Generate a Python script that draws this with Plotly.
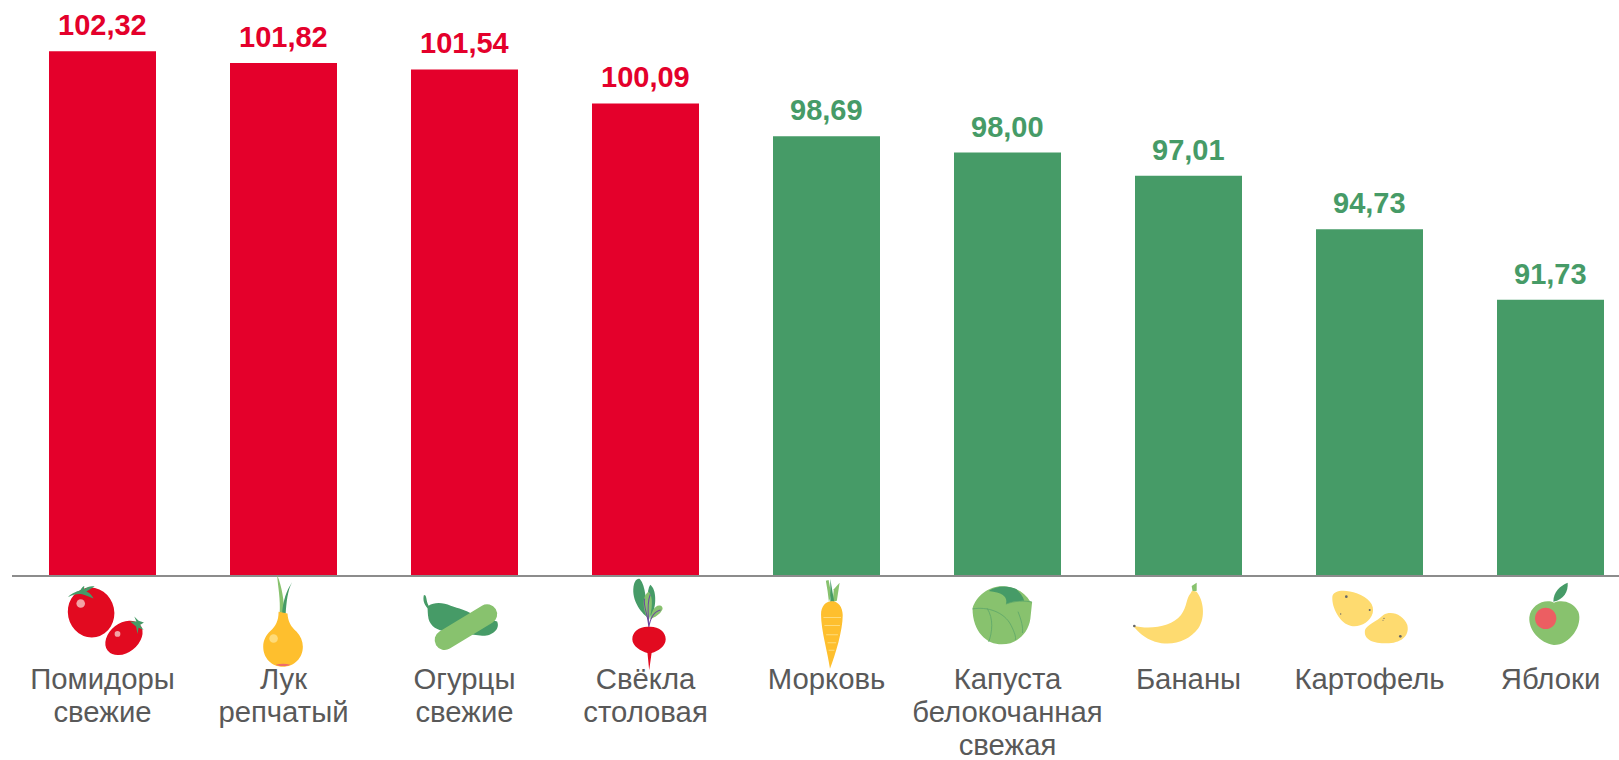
import base64
import plotly.graph_objects as go

categories = ["Помидоры<br>свежие", "Лук<br>репчатый", "Огурцы<br>свежие", "Свёкла<br>столовая",
              "Морковь", "Капуста<br>белокочанная<br>свежая", "Бананы", "Картофель", "Яблоки"]
values = [102.32, 101.82, 101.54, 100.09, 98.69, 98.00, 97.01, 94.73, 91.73]

RED = "#E4002B"
GREEN = "#469B67"
LIGHT = "#88C26E"
YELLOW = "#FEBF2E"
PALE = "#FEDB70"
GREY = "#595959"

colors = [RED if v > 100 else GREEN for v in values]
labels = [f"{v:.2f}".replace(".", ",") for v in values]

W, H = 1619, 760
PLOT_L, PLOT_B = 12, 575
STEP = 181
ICON_W, ICON_H, ICON_TOP = 150, 100, 570
TICK_SIZE = 29.3

# Decorative icons: (local units per pixel, local x of the bar centre, svg body)
ICONS = [
    (2.8, 287.0, f'''
      <g transform="rotate(-12 255 147)"><ellipse cx="255" cy="147" rx="65" ry="70" fill="#E20A20"/></g>
      <circle cx="226" cy="122" r="12" fill="#F3A3A5"/>
      <path d="M190,104 C205,90 218,88 225,85 C228,78 232,75 236,73 L235,82 C245,74 255,72 265,74 C255,80 248,84 242,88 C252,92 258,100 262,108 C250,104 238,98 230,96 C220,94 205,96 190,104Z" fill="{GREEN}"/>
      <g transform="rotate(-38 347 218)"><ellipse cx="347" cy="218" rx="58" ry="41" fill="#E20A20"/></g>
      <circle cx="329" cy="207" r="8" fill="#F3A3A5"/>
      <path d="M364,172 L382,172 L376,158 L388,170 L403,175 L392,182 L402,196 L388,190 L385,207 L381,186 Z" fill="{GREEN}"/>
    '''),
    (2.8, 793.8, f'''
      <path d="M776,42 C790,75 795,115 797,150 L783,150 C786,110 778,75 776,42Z" fill="{LIGHT}"/>
      <path d="M818,62 C805,85 802,120 800,150 L790,150 C792,115 802,85 818,62Z" fill="{GREEN}"/>
      <path d="M780,145 L805,150 C806,172 815,188 830,200 C842,212 848,228 848,243 C848,275 823,299 792,299 C761,299 737,275 737,243 C737,225 745,210 757,199 C772,186 780,170 780,145Z" fill="{YELLOW}"/>
      <path d="M772,293 C785,290 800,290 813,293 C805,298 780,298 772,293Z" fill="#EE6B6B"/>
      <circle cx="766" cy="220" r="12" fill="#FEDB7A"/>
    '''),
    (2.8, 1300.6, f'''
      <path d="M1187,98 C1196,98 1192,112 1200,128 C1215,118 1240,118 1262,128 C1285,136 1305,140 1322,152 L1392,172 C1402,195 1375,214 1350,212 L1250,200 C1225,198 1205,185 1200,165 C1197,150 1198,140 1197,135 C1188,125 1183,112 1187,98Z" fill="{GREEN}"/>
      <line x1="1245" y1="224" x2="1364" y2="152" stroke="{LIGHT}" stroke-width="56" stroke-linecap="round"/>
    '''),
    (2.904, 248.3, f'''
      <path d="M232,55 C250,75 248,120 258,170 C230,150 205,110 215,70 C218,60 224,52 232,55Z" fill="{GREEN}"/>
      <path d="M262,72 C280,85 282,130 264,170 C255,130 250,90 262,72Z" fill="{GREEN}"/>
      <path d="M257,92 C272,105 268,145 258,175 C240,150 236,105 257,92Z" fill="{LIGHT}"/>
      <path d="M298,142 C290,160 275,165 262,172 C266,150 275,130 290,132 C295,132 298,136 298,142Z" fill="{LIGHT}"/>
      <path d="M258,195 C256,160 240,130 246,112 M258,195 C258,170 250,130 262,100 M258,195 C262,170 270,150 292,145" fill="none" stroke="#6C4A9E" stroke-width="3"/>
      <path d="M258,194 C285,192 307,208 307,230 C307,250 285,265 266,270 L259,320 L254,270 C235,265 210,250 210,230 C210,208 232,192 258,194Z" fill="#E20A20"/>
    '''),
    (2.904, 773.9, f'''
      <path d="M772,60 L780,58 L788,100 L781,122 L777,90Z" fill="{LIGHT}"/>
      <path d="M812,66 L804,118 L792,122 L795,85Z" fill="{LIGHT}"/>
      <path d="M785,55 L796,120 L785,122Z" fill="{GREEN}"/>
      <path d="M788,120 C805,118 821,135 821,160 C821,205 800,275 784,316 C778,270 758,205 758,158 C758,135 772,120 788,120Z" fill="{YELLOW}"/>
      <path d="M765,167 H816 M768,190 H813 M773,217 H807 M777,240 H802 M780,262 H797" stroke="#FEDB7A" stroke-width="3" fill="none"/>
    '''),
    (2.904, 1299.5, f'''
      <path d="M1283,76 C1320,76 1350,95 1365,120 L1371,122 L1366,170 C1360,215 1325,245 1283,245 C1240,245 1198,210 1198,140 C1208,105 1245,76 1283,76Z" fill="{LIGHT}"/>
      <path d="M1245,90 C1265,75 1300,72 1325,84 C1335,95 1345,105 1348,118 C1335,118 1315,120 1295,128 C1300,110 1290,95 1245,90Z" fill="{GREEN}"/>
      <path d="M1198,142 C1240,135 1290,150 1310,190 C1320,210 1325,225 1322,232 M1295,128 C1320,118 1350,118 1370,122 M1240,140 C1260,170 1255,210 1245,238 M1330,150 C1340,175 1345,195 1343,212" fill="none" stroke="#5FA86A" stroke-width="2.5"/>
    '''),
    (3.0, 265.5, f'''
      <path d="M275,78 L290,68 L290,92 L278,96Z" fill="{LIGHT}"/>
      <path d="M100,197 C150,210 215,200 243,165 C262,140 258,115 272,100 L276,92 L290,95 C310,120 318,170 295,205 C265,245 215,260 165,245 C135,235 112,215 100,197Z" fill="{PALE}"/>
      <circle cx="103" cy="198" r="4" fill="#666666"/>
    '''),
    (3.0, 808.5, f'''
      <path d="M697,110 C700,88 740,88 770,100 C805,112 825,135 818,160 C810,190 770,207 745,195 C720,185 695,145 697,110Z" fill="{PALE}"/>
      <path d="M795,210 C800,195 830,185 850,165 C875,150 910,165 922,195 C930,230 900,250 860,250 C820,250 790,240 795,210Z" fill="{PALE}"/>
      <circle cx="739" cy="110" r="4" fill="#666666"/><circle cx="809" cy="150" r="3" fill="#666666"/>
      <circle cx="722" cy="162" r="2" fill="#666666"/><circle cx="852" cy="175" r="2" fill="#666666"/>
      <circle cx="849" cy="181" r="1.5" fill="#666666"/><circle cx="901" cy="229" r="4" fill="#666666"/>
    '''),
    (3.0, 1351.5, f'''
      <path d="M1362,128 C1385,118 1420,125 1435,155 C1450,195 1410,255 1362,255 C1320,250 1285,210 1288,172 C1292,135 1335,115 1362,128Z" fill="{LIGHT}"/>
      <circle cx="1337" cy="175" r="32" fill="#EC5E62"/>
      <path d="M1360,125 C1360,95 1380,78 1403,68 C1405,95 1392,118 1360,125Z" fill="{GREEN}"/>
    '''),
]


def icon_uri(s, cx, body):
    vb = f"{cx - s * ICON_W / 2} {s * (ICON_TOP - 560)} {s * ICON_W} {s * ICON_H}"
    svg = (f'<svg xmlns="http://www.w3.org/2000/svg" width="{ICON_W}" height="{ICON_H}" '
           f'viewBox="{vb}">{body}</svg>')
    return "data:image/svg+xml;base64," + base64.b64encode(svg.encode()).decode()


fig = go.Figure(go.Bar(
    x=list(range(len(values))), y=values,
    marker=dict(color=colors, line=dict(width=0)),
    width=107 / STEP,
    hoverinfo="skip",
))

for i, (v, lab, col) in enumerate(zip(values, labels, colors)):
    fig.add_annotation(x=i, y=v, text=f"<b>{lab}</b>", showarrow=False, yanchor="bottom", yshift=8,
                       font=dict(family="Liberation Sans, Arial, sans-serif", size=29, color=col))

fig.update_layout(
    images=[dict(source=icon_uri(s, cx, body), xref="x", yref="paper", x=i,
                 y=(PLOT_B - ICON_TOP) / PLOT_B, sizex=ICON_W / STEP, sizey=ICON_H / PLOT_B,
                 xanchor="center", yanchor="top", layer="above", sizing="stretch")
            for i, (s, cx, body) in enumerate(ICONS)],
    width=W, height=H, autosize=False,
    margin=dict(l=PLOT_L, r=0, t=0, b=H - PLOT_B, pad=0, autoexpand=False),
    paper_bgcolor="white", plot_bgcolor="white",
    showlegend=False,
    xaxis=dict(
        tickmode="array", tickvals=list(range(len(categories))), ticktext=categories,
        range=[-0.5, (W - PLOT_L) / STEP - 0.5],
        automargin=False,
        showline=True, linecolor="#8C8C8C", linewidth=1.5,
        showgrid=False, zeroline=False, ticks="", tickangle=0,
        ticklabelstandoff=77,
        tickfont=dict(family="Liberation Sans, Arial, sans-serif", size=TICK_SIZE, color=GREY),
    ),
    yaxis=dict(visible=False, range=[80, 80 + PLOT_B / 23.47], fixedrange=True, automargin=False),
)

post = """
document.body.style.margin = '0';
document.body.style.overflow = 'hidden';
document.querySelectorAll('.xtick text tspan.line').forEach(function (t) {
  var d = parseFloat(t.getAttribute('dy'));
  if (d) t.setAttribute('dy', (d * 33 / (%s * 1.3)) + 'em');
});
""" % TICK_SIZE
fig.write_html("out.html", post_script=post, config=dict(displayModeBar=False))
